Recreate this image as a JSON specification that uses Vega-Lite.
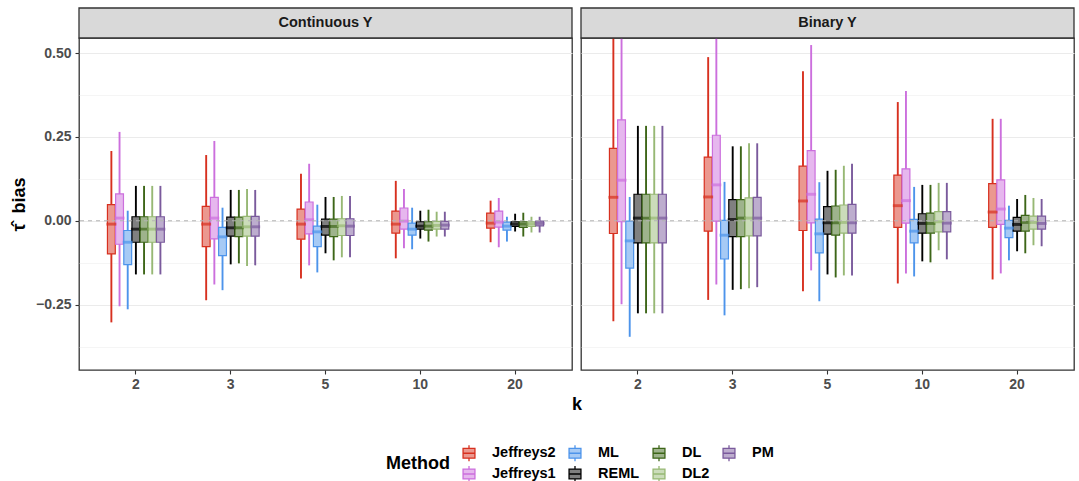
{
  "$schema": "https://vega.github.io/schema/vega-lite/v6.json",
  "padding": {"left": 9, "top": 6, "right": 4, "bottom": 5},
  "background": "white",
  "datasets": {
    "box": [
      {"p":"Continuous Y","k":"2","m":"Jeffreys2","lo":-0.303,"q1":-0.099,"md":-0.010,"q3":0.048,"hi":0.208},
      {"p":"Continuous Y","k":"2","m":"Jeffreys1","lo":-0.255,"q1":-0.070,"md":0.008,"q3":0.080,"hi":0.265},
      {"p":"Continuous Y","k":"2","m":"ML","lo":-0.264,"q1":-0.131,"md":-0.064,"q3":-0.029,"hi":0.030},
      {"p":"Continuous Y","k":"2","m":"REML","lo":-0.160,"q1":-0.064,"md":-0.025,"q3":0.012,"hi":0.104},
      {"p":"Continuous Y","k":"2","m":"DL","lo":-0.160,"q1":-0.064,"md":-0.025,"q3":0.012,"hi":0.104},
      {"p":"Continuous Y","k":"2","m":"DL2","lo":-0.160,"q1":-0.064,"md":-0.025,"q3":0.012,"hi":0.104},
      {"p":"Continuous Y","k":"2","m":"PM","lo":-0.160,"q1":-0.064,"md":-0.025,"q3":0.012,"hi":0.104},
      {"p":"Continuous Y","k":"3","m":"Jeffreys2","lo":-0.237,"q1":-0.077,"md":-0.010,"q3":0.043,"hi":0.196},
      {"p":"Continuous Y","k":"3","m":"Jeffreys1","lo":-0.190,"q1":-0.054,"md":0.008,"q3":0.070,"hi":0.238},
      {"p":"Continuous Y","k":"3","m":"ML","lo":-0.207,"q1":-0.104,"md":-0.048,"q3":-0.020,"hi":0.039},
      {"p":"Continuous Y","k":"3","m":"REML","lo":-0.130,"q1":-0.046,"md":-0.021,"q3":0.011,"hi":0.092},
      {"p":"Continuous Y","k":"3","m":"DL","lo":-0.127,"q1":-0.047,"md":-0.021,"q3":0.011,"hi":0.092},
      {"p":"Continuous Y","k":"3","m":"DL2","lo":-0.135,"q1":-0.046,"md":-0.018,"q3":0.013,"hi":0.095},
      {"p":"Continuous Y","k":"3","m":"PM","lo":-0.133,"q1":-0.046,"md":-0.018,"q3":0.013,"hi":0.092},
      {"p":"Continuous Y","k":"5","m":"Jeffreys2","lo":-0.172,"q1":-0.055,"md":-0.010,"q3":0.035,"hi":0.140},
      {"p":"Continuous Y","k":"5","m":"Jeffreys1","lo":-0.133,"q1":-0.039,"md":0.003,"q3":0.056,"hi":0.170},
      {"p":"Continuous Y","k":"5","m":"ML","lo":-0.154,"q1":-0.077,"md":-0.033,"q3":-0.016,"hi":0.048},
      {"p":"Continuous Y","k":"5","m":"REML","lo":-0.097,"q1":-0.043,"md":-0.017,"q3":0.005,"hi":0.071},
      {"p":"Continuous Y","k":"5","m":"DL","lo":-0.118,"q1":-0.047,"md":-0.017,"q3":0.005,"hi":0.071},
      {"p":"Continuous Y","k":"5","m":"DL2","lo":-0.109,"q1":-0.044,"md":-0.015,"q3":0.006,"hi":0.074},
      {"p":"Continuous Y","k":"5","m":"PM","lo":-0.109,"q1":-0.044,"md":-0.016,"q3":0.006,"hi":0.074},
      {"p":"Continuous Y","k":"10","m":"Jeffreys2","lo":-0.112,"q1":-0.037,"md":-0.010,"q3":0.029,"hi":0.119},
      {"p":"Continuous Y","k":"10","m":"Jeffreys1","lo":-0.082,"q1":-0.025,"md":-0.001,"q3":0.038,"hi":0.095},
      {"p":"Continuous Y","k":"10","m":"ML","lo":-0.085,"q1":-0.043,"md":-0.025,"q3":-0.007,"hi":0.039},
      {"p":"Continuous Y","k":"10","m":"REML","lo":-0.053,"q1":-0.025,"md":-0.016,"q3":-0.003,"hi":0.030},
      {"p":"Continuous Y","k":"10","m":"DL","lo":-0.062,"q1":-0.028,"md":-0.016,"q3":-0.003,"hi":0.033},
      {"p":"Continuous Y","k":"10","m":"DL2","lo":-0.047,"q1":-0.025,"md":-0.014,"q3":-0.002,"hi":0.027},
      {"p":"Continuous Y","k":"10","m":"PM","lo":-0.047,"q1":-0.025,"md":-0.013,"q3":-0.002,"hi":0.027},
      {"p":"Continuous Y","k":"20","m":"Jeffreys2","lo":-0.064,"q1":-0.022,"md":-0.007,"q3":0.023,"hi":0.060},
      {"p":"Continuous Y","k":"20","m":"Jeffreys1","lo":-0.079,"q1":-0.019,"md":-0.004,"q3":0.029,"hi":0.068},
      {"p":"Continuous Y","k":"20","m":"ML","lo":-0.062,"q1":-0.028,"md":-0.016,"q3":-0.004,"hi":0.012},
      {"p":"Continuous Y","k":"20","m":"REML","lo":-0.032,"q1":-0.017,"md":-0.010,"q3":-0.003,"hi":0.021},
      {"p":"Continuous Y","k":"20","m":"DL","lo":-0.047,"q1":-0.020,"md":-0.010,"q3":-0.003,"hi":0.024},
      {"p":"Continuous Y","k":"20","m":"DL2","lo":-0.035,"q1":-0.017,"md":-0.009,"q3":-0.003,"hi":0.012},
      {"p":"Continuous Y","k":"20","m":"PM","lo":-0.035,"q1":-0.015,"md":-0.008,"q3":-0.001,"hi":0.012},
      {"p":"Binary Y","k":"2","m":"Jeffreys2","lo":-0.300,"q1":-0.038,"md":0.070,"q3":0.216,"hi":0.62},
      {"p":"Binary Y","k":"2","m":"Jeffreys1","lo":-0.249,"q1":-0.003,"md":0.121,"q3":0.301,"hi":0.72},
      {"p":"Binary Y","k":"2","m":"ML","lo":-0.346,"q1":-0.141,"md":-0.060,"q3":-0.001,"hi":0.071},
      {"p":"Binary Y","k":"2","m":"REML","lo":-0.276,"q1":-0.066,"md":0.008,"q3":0.079,"hi":0.283},
      {"p":"Binary Y","k":"2","m":"DL","lo":-0.276,"q1":-0.066,"md":0.008,"q3":0.079,"hi":0.283},
      {"p":"Binary Y","k":"2","m":"DL2","lo":-0.276,"q1":-0.066,"md":0.008,"q3":0.079,"hi":0.283},
      {"p":"Binary Y","k":"2","m":"PM","lo":-0.276,"q1":-0.066,"md":0.008,"q3":0.079,"hi":0.283},
      {"p":"Binary Y","k":"3","m":"Jeffreys2","lo":-0.236,"q1":-0.031,"md":0.071,"q3":0.190,"hi":0.488},
      {"p":"Binary Y","k":"3","m":"Jeffreys1","lo":-0.190,"q1":-0.001,"md":0.107,"q3":0.255,"hi":0.60},
      {"p":"Binary Y","k":"3","m":"ML","lo":-0.282,"q1":-0.114,"md":-0.043,"q3":0.001,"hi":0.116},
      {"p":"Binary Y","k":"3","m":"REML","lo":-0.206,"q1":-0.047,"md":0.004,"q3":0.063,"hi":0.222},
      {"p":"Binary Y","k":"3","m":"DL","lo":-0.204,"q1":-0.047,"md":0.008,"q3":0.063,"hi":0.222},
      {"p":"Binary Y","k":"3","m":"DL2","lo":-0.201,"q1":-0.045,"md":0.008,"q3":0.068,"hi":0.231},
      {"p":"Binary Y","k":"3","m":"PM","lo":-0.198,"q1":-0.045,"md":0.008,"q3":0.070,"hi":0.231},
      {"p":"Binary Y","k":"5","m":"Jeffreys2","lo":-0.210,"q1":-0.029,"md":0.059,"q3":0.163,"hi":0.446},
      {"p":"Binary Y","k":"5","m":"Jeffreys1","lo":-0.148,"q1":-0.006,"md":0.079,"q3":0.209,"hi":0.524},
      {"p":"Binary Y","k":"5","m":"ML","lo":-0.240,"q1":-0.096,"md":-0.039,"q3":0.005,"hi":0.115},
      {"p":"Binary Y","k":"5","m":"REML","lo":-0.160,"q1":-0.040,"md":-0.006,"q3":0.042,"hi":0.149},
      {"p":"Binary Y","k":"5","m":"DL","lo":-0.169,"q1":-0.043,"md":-0.006,"q3":0.044,"hi":0.152},
      {"p":"Binary Y","k":"5","m":"DL2","lo":-0.163,"q1":-0.037,"md":-0.005,"q3":0.047,"hi":0.164},
      {"p":"Binary Y","k":"5","m":"PM","lo":-0.163,"q1":-0.037,"md":-0.006,"q3":0.049,"hi":0.170},
      {"p":"Binary Y","k":"10","m":"Jeffreys2","lo":-0.187,"q1":-0.020,"md":0.045,"q3":0.136,"hi":0.354},
      {"p":"Binary Y","k":"10","m":"Jeffreys1","lo":-0.157,"q1":-0.007,"md":0.060,"q3":0.155,"hi":0.387},
      {"p":"Binary Y","k":"10","m":"ML","lo":-0.166,"q1":-0.066,"md":-0.031,"q3":0.004,"hi":0.101},
      {"p":"Binary Y","k":"10","m":"REML","lo":-0.121,"q1":-0.037,"md":-0.008,"q3":0.021,"hi":0.107},
      {"p":"Binary Y","k":"10","m":"DL","lo":-0.124,"q1":-0.037,"md":-0.008,"q3":0.023,"hi":0.107},
      {"p":"Binary Y","k":"10","m":"DL2","lo":-0.088,"q1":-0.033,"md":-0.003,"q3":0.027,"hi":0.113},
      {"p":"Binary Y","k":"10","m":"PM","lo":-0.115,"q1":-0.033,"md":-0.007,"q3":0.027,"hi":0.113},
      {"p":"Binary Y","k":"20","m":"Jeffreys2","lo":-0.175,"q1":-0.020,"md":0.026,"q3":0.111,"hi":0.304},
      {"p":"Binary Y","k":"20","m":"Jeffreys1","lo":-0.157,"q1":-0.011,"md":0.035,"q3":0.122,"hi":0.304},
      {"p":"Binary Y","k":"20","m":"ML","lo":-0.118,"q1":-0.050,"md":-0.022,"q3":0.001,"hi":0.045},
      {"p":"Binary Y","k":"20","m":"REML","lo":-0.091,"q1":-0.031,"md":-0.011,"q3":0.010,"hi":0.065},
      {"p":"Binary Y","k":"20","m":"DL","lo":-0.097,"q1":-0.031,"md":-0.005,"q3":0.016,"hi":0.077},
      {"p":"Binary Y","k":"20","m":"DL2","lo":-0.073,"q1":-0.025,"md":-0.005,"q3":0.014,"hi":0.068},
      {"p":"Binary Y","k":"20","m":"PM","lo":-0.076,"q1":-0.025,"md":-0.008,"q3":0.014,"hi":0.065}
    ]
  },
  "config": {
    "font": "Liberation Sans",
    "view": {"stroke": "#333333", "strokeWidth": 1.3},
    "axis": {
      "labelFont": "Liberation Sans", "labelFontWeight": "bold", "labelColor": "#4D4D4D", "labelFontSize": 14,
      "tickColor": "#333333", "tickSize": 4, "tickWidth": 1.1, "gridColor": "#EBEBEB", "gridWidth": 1.1, "domain": false,
      "titleFont": "Liberation Sans", "titleFontWeight": "bold", "titleFontSize": 18, "titleColor": "#000000"
    }
  },
  "bounds": "flush",
  "spacing": 9,
  "resolve": {
    "scale": {"fill": "shared", "stroke": "shared", "x": "independent", "y": "independent", "xOffset": "independent"},
    "legend": {"fill": "shared", "stroke": "shared"}
  },
  "hconcat": [
    {
      "width": 493, "height": 332,
      "layer": [
        {
          "data": {"name": "box"},
          "transform": [{"filter": "datum.p === 'Continuous Y'"}],
          "encoding": {
            "x": {"field": "k", "type": "ordinal", "sort": ["2","3","5","10","20"], "scale": {"paddingInner": 0.4, "paddingOuter": 0.3},
                  "axis": {"title": "k", "labelAngle": 0, "titleX": 497.5, "titlePadding": 4, "labelPadding": 3}},
            "xOffset": {"field": "m", "type": "nominal", "sort": ["Jeffreys2","Jeffreys1","ML","REML","DL","DL2","PM"], "scale": {"paddingInner": 0.04, "paddingOuter": 0}}
          },
          "layer": [
            {
              "mark": {"type": "rule", "strokeWidth": 1.9, "clip": true},
              "encoding": {
                "y": {"field": "lo", "type": "quantitative", "scale": {"domain": [-0.445, 0.545], "nice": false, "zero": false},
                      "axis": {"title": "τ̂\u00a0\u00a0bias", "values": [-0.25, 0, 0.25, 0.5], "format": ".2f", "grid": true, "titlePadding": 7, "labelPadding": 4}},
                "y2": {"field": "hi"},
                "stroke": {"field": "m", "type": "nominal", "title": "Method",
                           "scale": {"domain": ["Jeffreys2","ML","DL","PM","Jeffreys1","REML","DL2"], "range": ["#D7301F","#4D94EB","#3D6618","#7A5A9C","#CC6FDD","#000000","#97B874"]},
                           "legend": {"orient": "none", "legendX": 307, "legendY": 405, "direction": "horizontal", "columns": 4, "titleOrient": "left",
                                      "titleFontSize": 18, "titleFontWeight": "bold", "titleColor": "#000000", "titleBaseline": "middle", "titleAnchor": "middle",
                                      "labelFontSize": 14.5, "labelFontWeight": "bold", "labelColor": "#000000",
                                      "symbolType": "M-0.66,-0.55H0.66V0.55H-0.66Z M0,-0.55V-0.88 M0,0.55V0.88 M-0.66,0H0.66",
                                      "symbolSize": 324, "symbolStrokeWidth": 1.3, "rowPadding": -2, "columnPadding": 9, "labelOffset": 13, "titlePadding": 9}}
              }
            },
            {
              "mark": {"type": "bar", "strokeWidth": 1.2, "clip": true},
              "encoding": {
                "y": {"field": "q1", "type": "quantitative"},
                "y2": {"field": "q3"},
                "fill": {"field": "m", "type": "nominal", "title": "Method",
                         "scale": {"domain": ["Jeffreys2","ML","DL","PM","Jeffreys1","REML","DL2"], "range": ["#EB988F","#A6CAF5","#9EB38C","#BDADCE","#E6B7EE","#808080","#CBDCBA"]},
                         "legend": {"orient": "none", "legendX": 307, "legendY": 405, "direction": "horizontal", "columns": 4, "titleOrient": "left",
                                      "titleFontSize": 18, "titleFontWeight": "bold", "titleColor": "#000000", "titleBaseline": "middle", "titleAnchor": "middle",
                                      "labelFontSize": 14.5, "labelFontWeight": "bold", "labelColor": "#000000",
                                      "symbolType": "M-0.66,-0.55H0.66V0.55H-0.66Z M0,-0.55V-0.88 M0,0.55V0.88 M-0.66,0H0.66",
                                      "symbolSize": 324, "symbolStrokeWidth": 1.3, "rowPadding": -2, "columnPadding": 9, "labelOffset": 13, "titlePadding": 9}},
                "stroke": {"field": "m", "type": "nominal", "title": "Method"}
              }
            },
            {
              "mark": {"type": "tick", "thickness": 0.4, "strokeWidth": 2.5, "filled": false, "size": 7.4, "clip": true},
              "encoding": {
                "y": {"field": "md", "type": "quantitative"},
                "stroke": {"field": "m", "type": "nominal", "title": "Method"}
              }
            }
          ]
        },
        {
          "data": {"values": [{}]},
          "mark": {"type": "rule", "strokeDash": [4, 4], "color": "#B3B3B3", "strokeWidth": 1},
          "encoding": {
            "y": {"datum": 0, "type": "quantitative", "scale": {"domain": [-0.445, 0.545], "nice": false, "zero": false},
                  "axis": {"orient": "left", "values": [-0.375, -0.125, 0.125, 0.375], "grid": true, "gridWidth": 0.6, "gridColor": "#EEEEEE", "labels": false, "ticks": false, "domain": false, "title": null}}
          }
        },
        {
          "data": {"values": [{"p": "Continuous Y"}]},
          "layer": [
            {
              "mark": {"type": "rect", "fill": "#D9D9D9", "stroke": "#333333", "strokeWidth": 1.3},
              "encoding": {
                "y": {"datum": 0, "type": "quantitative", "scale": {"domain": [0, 1], "range": [0, -30], "nice": false, "zero": false}, "axis": null},
                "y2": {"datum": 1}
              }
            },
            {
              "mark": {"type": "text", "font": "Liberation Sans", "fontWeight": "bold", "fontSize": 14.5, "color": "#1A1A1A", "baseline": "middle"},
              "encoding": {
                "y": {"datum": 0.5, "type": "quantitative"},
                "text": {"field": "p"}
              }
            }
          ]
        }
      ],
      "resolve": {"scale": {"y": "independent"}}
    },
    {
      "width": 493, "height": 332,
      "layer": [
        {
          "data": {"name": "box"},
          "transform": [{"filter": "datum.p === 'Binary Y'"}],
          "encoding": {
            "x": {"field": "k", "type": "ordinal", "sort": ["2","3","5","10","20"], "scale": {"paddingInner": 0.4, "paddingOuter": 0.3},
                  "axis": {"title": null, "labelAngle": 0, "labelPadding": 3}},
            "xOffset": {"field": "m", "type": "nominal", "sort": ["Jeffreys2","Jeffreys1","ML","REML","DL","DL2","PM"], "scale": {"paddingInner": 0.04, "paddingOuter": 0}}
          },
          "layer": [
            {
              "mark": {"type": "rule", "strokeWidth": 1.9, "clip": true},
              "encoding": {
                "y": {"field": "lo", "type": "quantitative", "scale": {"domain": [-0.445, 0.545], "nice": false, "zero": false},
                      "axis": {"title": null, "values": [-0.25, 0, 0.25, 0.5], "labels": false, "ticks": false, "grid": true}},
                "y2": {"field": "hi"},
                "stroke": {"field": "m", "type": "nominal", "title": "Method"}
              }
            },
            {
              "mark": {"type": "bar", "strokeWidth": 1.2, "clip": true},
              "encoding": {
                "y": {"field": "q1", "type": "quantitative"},
                "y2": {"field": "q3"},
                "fill": {"field": "m", "type": "nominal", "title": "Method"},
                "stroke": {"field": "m", "type": "nominal", "title": "Method"}
              }
            },
            {
              "mark": {"type": "tick", "thickness": 0.4, "strokeWidth": 2.5, "filled": false, "size": 7.4, "clip": true},
              "encoding": {
                "y": {"field": "md", "type": "quantitative"},
                "stroke": {"field": "m", "type": "nominal", "title": "Method"}
              }
            }
          ]
        },
        {
          "data": {"values": [{}]},
          "mark": {"type": "rule", "strokeDash": [4, 4], "color": "#B3B3B3", "strokeWidth": 1},
          "encoding": {
            "y": {"datum": 0, "type": "quantitative", "scale": {"domain": [-0.445, 0.545], "nice": false, "zero": false},
                  "axis": {"orient": "left", "values": [-0.375, -0.125, 0.125, 0.375], "grid": true, "gridWidth": 0.6, "gridColor": "#EEEEEE", "labels": false, "ticks": false, "domain": false, "title": null}}
          }
        },
        {
          "data": {"values": [{"p": "Binary Y"}]},
          "layer": [
            {
              "mark": {"type": "rect", "fill": "#D9D9D9", "stroke": "#333333", "strokeWidth": 1.3},
              "encoding": {
                "y": {"datum": 0, "type": "quantitative", "scale": {"domain": [0, 1], "range": [0, -30], "nice": false, "zero": false}, "axis": null},
                "y2": {"datum": 1}
              }
            },
            {
              "mark": {"type": "text", "font": "Liberation Sans", "fontWeight": "bold", "fontSize": 14.5, "color": "#1A1A1A", "baseline": "middle"},
              "encoding": {
                "y": {"datum": 0.5, "type": "quantitative"},
                "text": {"field": "p"}
              }
            }
          ]
        }
      ],
      "resolve": {"scale": {"y": "independent"}}
    }
  ]
}
